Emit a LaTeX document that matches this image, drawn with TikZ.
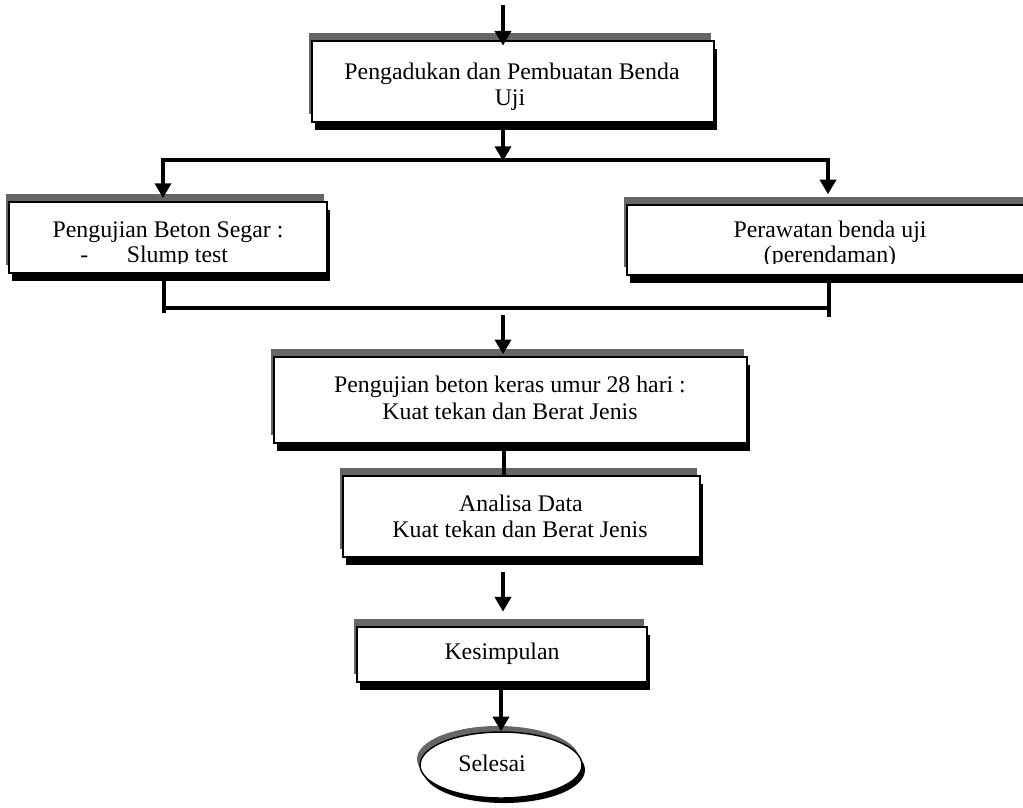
\documentclass[tikz,border=0pt]{standalone}
\usepackage{fontspec}
\setmainfont{Liberation Serif}
\usetikzlibrary{arrows.meta,shapes.geometric,shadows,fit,calc}
\definecolor{shgray}{RGB}{102,102,102}
\begin{document}
\begin{tikzpicture}[x=0.75pt,y=-0.75pt,
  box/.style={draw=black, line width=1.1pt, fill=white, inner sep=0pt,
     general shadow={fill=shgray, shadow xshift=-2.25pt, shadow yshift=6pt},
     general shadow={fill=black, shadow xshift=2.25pt, shadow yshift=-6pt}},
  oval/.style={ellipse, draw=black, line width=1.1pt, fill=white, inner sep=0pt,
     minimum width=121.5pt, minimum height=49.5pt,
     general shadow={fill=shgray, shadow xshift=-2.25pt, shadow yshift=4.5pt},
     general shadow={fill=black, shadow xshift=2.25pt, shadow yshift=-3.75pt}},
  txt/.style={font=\fontsize{17.85pt}{20pt}\selectfont, inner sep=0pt, anchor=base},
  arr/.style={line width=3.4pt, -{Triangle[length=11pt,width=12pt]}},
  ln/.style={line width=3pt}]
\useasboundingbox (0,0) rectangle (1023,807);
\clip (0,0) rectangle (1023,807);

% boxes
\node[box, fit={(312,41) (714,122)}] (b1) {};
\node[box, fit={(9,202) (327,273)}] (b2) {};
\node[box, fit={(627,205) (1029,275)}] (b3) {};
\node[box, fit={(274,357) (747,443)}] (b4) {};
\node[box, fit={(343,476) (700,557)}] (b5) {};
\node[box, fit={(357,627) (647,682)}] (b6) {};
\node[oval] (e) at (501,765) {};

% texts
\node[txt] (t1a) at (512,79) {Pengadukan dan Pembuatan Benda};
\node[txt] (t1b) at (510,105) {Uji};
\begin{scope}
  \clip (0,190) rectangle (1023,263.5);
  \node[txt] (t2a) at (168,237.5) {Pengujian Beton Segar :};
  \node[txt, anchor=base west] (t2b) at (80,262.5) {-\hspace{29pt}Slump test};
  \node[txt] (t3a) at (830,237.5) {Perawatan benda uji};
  \node[txt] (t3b) at (830,262.5) {(perendaman)};
\end{scope}
\node[txt] (t4a) at (510,392) {Pengujian beton keras umur 28 hari :};
\node[txt] (t4b) at (510,419) {Kuat tekan dan Berat Jenis};
\node[txt] (t5a) at (521,511) {Analisa Data};
\node[txt] (t5b) at (520,537.5) {Kuat tekan dan Berat Jenis};
\node[txt] (t6) at (502,659) {Kesimpulan};
\node[txt] (t7) at (492,771) {Selesai};

% connector coordinates
\coordinate (start) at (503,5);
\coordinate (busT) at (503,161);
\coordinate (busTL) at (163,160);
\coordinate (busTR) at (828,160);
\coordinate (busBL) at (164,308);
\coordinate (busBR) at (829,308);
\coordinate (busBLend) at (164,313);
\coordinate (busBRend) at (829,317);
\coordinate (a4s) at (503,315);
\coordinate (c45) at (504,450);
\coordinate (a56) at (503,572);

% connectors
\draw[arr, shorten >=-4pt] (start) -- (start |- b1.north);
\draw[arr] (busT |- b1.south) -- (busT);
\draw[ln, line cap=rect] (busTL) -- (busTR);
\draw[arr, shorten >=2.5pt] (busTL) -- (busTL |- b2.north);
\draw[arr, shorten >=7.5pt] (busTR) -- (busTR |- b3.north);
\draw[ln] (busBL |- b2.south) -- (busBLend);
\draw[ln] (busBR |- b3.south) -- (busBRend);
\draw[ln] (busBL) -- (busBR);
\draw[arr, shorten >=1.5pt] (a4s) -- (a4s |- b4.north);
\draw[ln] (c45 |- b4.south) -- (c45 |- b5.north);
\draw[arr, shorten >=11pt] (a56) -- (a56 |- b6.north);
\draw[arr] (e.north |- b6.south) -- (e.north);
\end{tikzpicture}
\end{document}
